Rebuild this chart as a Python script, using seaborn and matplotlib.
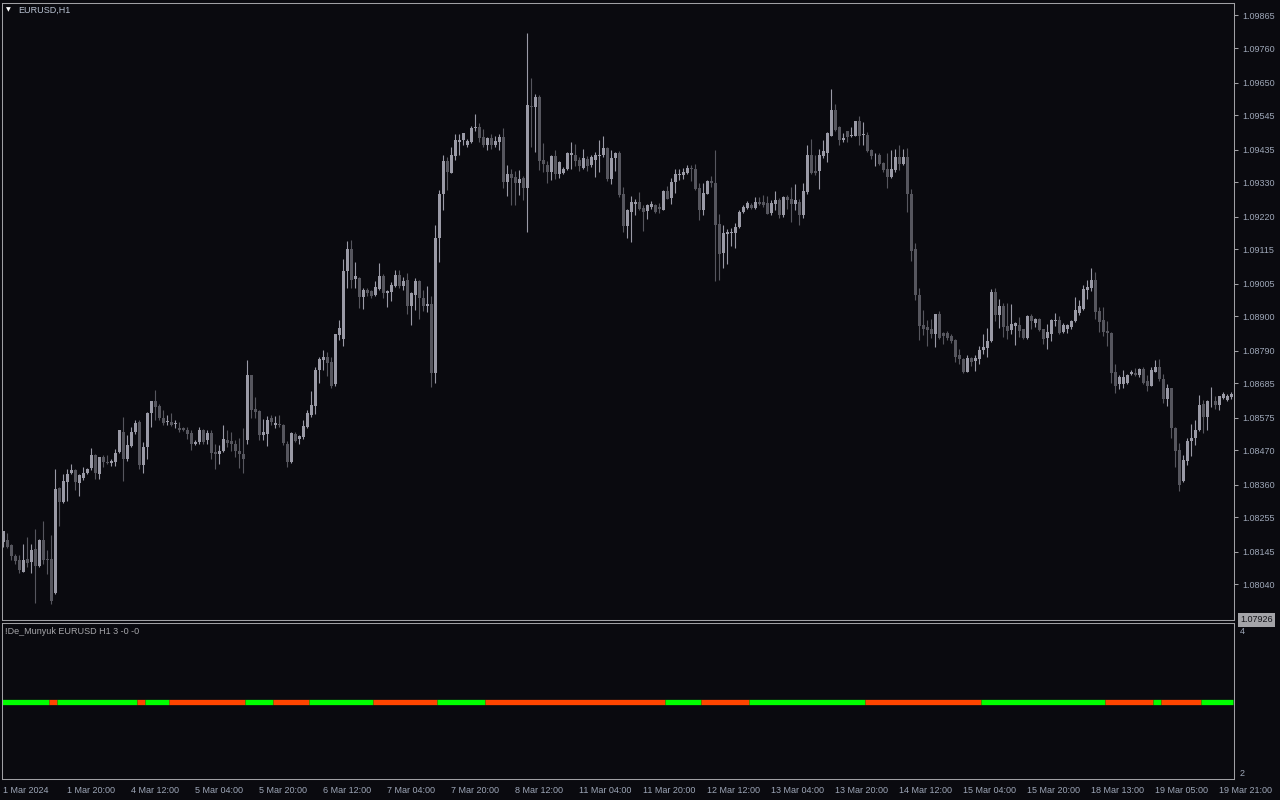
import numpy as np
import pandas as pd
import matplotlib
matplotlib.use("Agg")
import matplotlib.pyplot as plt
import seaborn as sns

# ---------------- data (prices in points, 1 point = 0.00001) ----------------
opens_pts = [
108176,108181,108165,108130,108117,108081,108122,108111,108154,108099,108181,108122,108122,108012,108350,108304,108368,108397,108408,108365,
108382,108397,108414,108454,108395,108450,108434,108430,108432,108464,108530,108442,108483,108528,108560,108424,108480,108590,108630,108611,
108574,108562,108560,108554,108542,108542,108534,108525,108491,108496,108536,108502,108527,108465,108459,108467,108504,108499,108491,108467,
108459,108502,108711,108604,108595,108520,108521,108574,108552,108556,108553,108491,108433,108523,108505,108513,108545,108582,108612,108727,
108759,108769,108753,108682,108839,108828,109045,109117,109020,109024,108962,108983,108980,108967,108988,109028,108974,108978,108996,109031,
108997,109015,108932,108967,109012,108958,108933,108940,108718,109151,109291,109397,109360,109414,109459,109464,109451,109459,109503,109507,
109475,109448,109472,109451,109459,109475,109331,109355,109347,109327,109343,109311,109576,109571,109605,109400,109384,109363,109413,109357,
109359,109371,109418,109416,109400,109375,109405,109384,109403,109414,109416,109441,109339,109409,109424,109291,109189,109234,109259,109268,
109247,109238,109252,109256,109252,109241,109301,109279,109330,109352,109352,109360,109376,109371,109312,109240,109293,109334,109329,109195,
109104,109163,109168,109168,109186,109234,109248,109257,109248,109268,109268,109263,109231,109259,109272,109224,109282,109277,109259,109268,
109224,109298,109416,109366,109366,109414,109424,109480,109563,109507,109464,109493,109478,109478,109525,109481,109483,109432,109416,109419,
109391,109371,109346,109368,109411,109387,109411,109291,109115,108970,108871,108865,108858,108842,108906,108846,108846,108837,108823,108775,
108764,108723,108766,108756,108762,108791,108799,108821,108978,108903,108932,108868,108855,108868,108871,108858,108830,108901,108878,108892,
108858,108830,108844,108884,108887,108849,108860,108866,108884,108911,108924,108983,108992,109018,108916,108887,108852,108847,108723,108682,
108684,108686,108714,108718,108711,108730,108691,108678,108723,108736,108700,108635,108669,108543,108470,108372,108436,108499,108510,108534,
108620,108577,108627,108630,108617,108638,108632,108641]
highs_pts = [
108213,108205,108170,108138,108136,108170,108192,108170,108218,108186,108242,108149,108200,108411,108352,108395,108411,108427,108411,108395,
108416,108414,108478,108457,108450,108454,108454,108443,108475,108536,108576,108518,108544,108566,108566,108496,108592,108630,108665,108619,
108598,108582,108590,108566,108560,108544,108546,108534,108502,108544,108539,108536,108536,108491,108486,108552,108534,108529,108504,108511,
108542,108759,108711,108641,108598,108571,108580,108584,108580,108582,108555,108500,108529,108529,108518,108566,108598,108659,108737,108771,
108791,108785,108769,108844,108889,109085,109143,109146,109074,109026,108992,108992,108985,109013,109071,109037,108985,109010,109050,109050,
109026,109040,108978,109024,109015,108986,108996,108964,109192,109304,109416,109411,109443,109485,109485,109488,109469,109509,109550,109521,
109502,109475,109485,109480,109485,109505,109384,109373,109365,109370,109349,109808,109664,109612,109609,109456,109397,109416,109434,109397,
109379,109427,109459,109453,109411,109437,109413,109416,109427,109466,109477,109443,109432,109427,109430,109314,109245,109285,109277,109298,
109256,109261,109270,109261,109263,109304,109317,109343,109373,109373,109376,109386,109384,109389,109327,109327,109338,109350,109432,109227,
109192,109181,109183,109200,109240,109256,109270,109264,109282,109282,109290,109285,109272,109301,109280,109285,109288,109314,109323,109277,
109327,109450,109469,109419,109437,109466,109491,109630,109580,109510,109489,109496,109507,109525,109541,109523,109491,109437,109423,109425,
109395,109423,109434,109437,109448,109437,109441,109307,109136,108992,108921,108887,108892,108908,108916,108849,108853,108844,108828,108796,
108766,108777,108769,108775,108805,108844,108863,108988,108992,108956,108942,108943,108938,108882,108898,108860,108905,108908,108895,108895,
108860,108876,108892,108911,108900,108878,108876,108889,108962,108951,108999,109017,109056,109042,108930,108930,108884,108849,108746,108711,
108729,108716,108729,108735,108735,108737,108713,108739,108759,108762,108716,108684,108670,108545,108495,108454,108511,108556,108566,108648,
108632,108632,108673,108646,108646,108657,108652,108657]
lows_pts = [
108160,108158,108117,108106,108076,108079,108095,108078,107980,108095,108106,108074,107976,108010,108227,108300,108307,108395,108344,108325,
108376,108395,108408,108377,108377,108416,108427,108419,108421,108462,108371,108437,108480,108523,108411,108397,108441,108544,108566,108568,
108550,108550,108548,108542,108528,108532,108507,108472,108486,108491,108491,108489,108441,108411,108427,108465,108481,108468,108449,108414,
108398,108491,108574,108574,108504,108504,108484,108552,108542,108545,108486,108417,108430,108497,108489,108507,108543,108576,108588,108686,
108727,108708,108670,108675,108825,108805,108992,108992,108992,108926,108922,108965,108958,108965,108985,108958,108930,108949,108994,108992,
108983,108906,108873,108921,108892,108916,108914,108673,108686,109074,109240,109304,109359,109400,109419,109448,109443,109457,109496,109459,
109443,109435,109437,109443,109434,109311,109286,109256,109256,109288,109272,109170,109443,109427,109368,109363,109327,109336,109339,109343,
109355,109368,109373,109382,109365,109371,109365,109379,109347,109363,109411,109334,109325,109367,109282,109170,109152,109138,109224,109240,
109175,109213,109245,109231,109231,109240,109275,109261,109295,109336,109339,109357,109334,109306,109208,109224,109293,109314,109013,109017,
109055,109069,109127,109119,109184,109231,109243,109243,109245,109256,109250,109227,109224,109242,109216,109220,109245,109202,109240,109194,
109215,109293,109357,109352,109309,109408,109395,109478,109496,109450,109459,109459,109475,109477,109451,109448,109427,109405,109381,109384,
109363,109311,109344,109363,109370,109384,109234,109079,108951,108823,108839,108805,108831,108801,108828,108812,108823,108815,108753,108748,
108719,108723,108740,108724,108746,108778,108771,108817,108885,108863,108835,108828,108844,108807,108835,108826,108828,108860,108865,108853,
108812,108796,108821,108869,108844,108846,108846,108858,108882,108903,108919,108956,108981,108892,108849,108836,108804,108686,108654,108668,
108670,108684,108711,108708,108705,108684,108660,108676,108721,108694,108622,108612,108510,108417,108340,108368,108424,108452,108488,108531,
108526,108537,108609,108604,108601,108634,108630,108636]
closes_pts = [
108211,108160,108131,108115,108085,108120,108108,108152,108099,108184,108120,108120,107986,108347,108304,108373,108395,108408,108368,108391,
108398,108411,108454,108397,108450,108432,108430,108437,108462,108534,108442,108486,108530,108557,108424,108482,108590,108627,108608,108574,
108557,108564,108552,108556,108534,108534,108523,108491,108498,108536,108498,108525,108461,108459,108467,108507,108494,108491,108468,108459,
108441,108711,108601,108593,108520,108529,108569,108561,108559,108550,108494,108433,108525,108500,108515,108547,108590,108614,108727,108762,
108769,108750,108678,108842,108862,109047,109117,109015,109028,108962,108986,108974,108965,108994,109028,108974,108980,109002,109031,108996,
109013,108932,108974,109013,108958,108933,108938,108718,109151,109291,109397,109363,109416,109464,109464,109488,109461,109504,109507,109472,
109448,109472,109448,109461,109475,109331,109355,109344,109327,109341,109311,109577,109571,109605,109397,109387,109363,109413,109355,109395,
109373,109424,109424,109397,109382,109409,109381,109411,109416,109416,109441,109339,109409,109424,109288,109189,109240,109268,109266,109245,
109234,109256,109261,109234,109243,109301,109277,109330,109357,109355,109363,109376,109371,109309,109240,109296,109333,109327,109192,109099,
109167,109170,109172,109188,109236,109252,109262,109248,109268,109259,109256,109229,109263,109272,109224,109282,109274,109259,109272,109224,
109301,109416,109359,109359,109416,109430,109488,109563,109498,109466,109473,109475,109483,109525,109480,109483,109429,109413,109419,109387,
109368,109346,109371,109411,109389,109411,109291,109108,108970,108869,108860,108855,108842,108906,108830,108837,108831,108821,108771,108762,
108723,108766,108755,108766,108793,108803,108821,108978,108903,108932,108866,108853,108874,108878,108853,108830,108901,108885,108892,108855,
108826,108849,108887,108887,108847,108871,108871,108884,108919,108932,108988,108994,109018,108914,108882,108849,108846,108718,108678,108705,
108705,108711,108720,108711,108730,108686,108676,108727,108736,108698,108635,108670,108543,108468,108360,108438,108499,108511,108537,108617,
108577,108630,108630,108617,108643,108650,108646,108650]

price_ticks = [1.09865, 1.09760, 1.09650, 1.09545, 1.09435, 1.09330, 1.09220, 1.09115,
               1.09005, 1.08900, 1.08790, 1.08685, 1.08575, 1.08470, 1.08360, 1.08255,
               1.08145, 1.08040]
last_label = 1.07926
price_top = 1.09905

date_labels = ["1 Mar 2024", "1 Mar 20:00", "4 Mar 12:00", "5 Mar 04:00", "5 Mar 20:00",
               "6 Mar 12:00", "7 Mar 04:00", "7 Mar 20:00", "8 Mar 12:00", "11 Mar 04:00",
               "11 Mar 20:00", "12 Mar 12:00", "13 Mar 04:00", "13 Mar 20:00", "14 Mar 12:00",
               "15 Mar 04:00", "15 Mar 20:00", "18 Mar 13:00", "19 Mar 05:00", "19 Mar 21:00"]
date_bar_index = [0, 16, 32, 48, 64, 80, 96, 112, 128, 144, 160, 176, 192, 208, 224, 240,
                  256, 272, 288, 304]

# indicator state runs: (state, number of bars); 1 = green, 0 = red
signal_runs = [(1, 12), (0, 2), (1, 20), (0, 2), (1, 6), (0, 19), (1, 7), (0, 9), (1, 16),
               (0, 16), (1, 12), (0, 45), (1, 9), (0, 12), (1, 29), (0, 29), (1, 31), (0, 12),
               (1, 2), (0, 10), (1, 8)]
signal_level = 3

# ---------------- style ----------------
BG = "#0a0a0f"
FRAME = "#a0a0a4"
TXT = "#9ea7b8"
BULL = "#9a9aa6"
BEAR = "#56565e"
GREEN = "#00ff00"
RED = "#ff4500"

sns.set_theme(style="dark", rc={
    "axes.facecolor": BG, "figure.facecolor": BG, "axes.edgecolor": FRAME,
    "axes.grid": False, "axes.linewidth": 0.75,
    "xtick.color": FRAME, "ytick.color": FRAME, "text.color": TXT,
})
plt.rcParams["font.family"] = ["Liberation Sans", "DejaVu Sans"]

W, H = 1280, 800
fig = plt.figure(figsize=(W / 100, H / 100), dpi=100, facecolor=BG)


def frac(x0, y0, x1, y1):
    return [x0 / W, 1 - y1 / H, (x1 - x0) / W, (y1 - y0) / H]


ax = fig.add_axes(frac(2, 3, 1234, 620))
ax2 = fig.add_axes(frac(2, 623, 1234, 779))

df = pd.DataFrame({
    "open": np.array(opens_pts) / 1e5,
    "high": np.array(highs_pts) / 1e5,
    "low": np.array(lows_pts) / 1e5,
    "close": np.array(closes_pts) / 1e5,
})
df["bar"] = np.arange(len(df))
df["up"] = df["close"] >= df["open"]
colors = np.where(df["up"], BULL, BEAR)

# wicks
ax.vlines(df["bar"], df["low"], df["high"], colors=colors, linewidth=0.8)
# bodies
body_bottom = np.minimum(df["open"], df["close"])
body_h = np.maximum((df["close"] - df["open"]).abs(), 0.00003)
ax.bar(df["bar"], body_h, bottom=body_bottom, width=0.75, color=colors, linewidth=0)

n = len(df)
xlim = (-0.325, n - 0.325)
ax.set_xlim(*xlim)
ax.set_ylim(last_label, price_top)
ax.set_xticks([])
ax.yaxis.tick_right()
ax.set_yticks(price_ticks)
ax.set_yticklabels([f"{p:.5f}" for p in price_ticks])
ax.tick_params(axis="y", direction="out", length=3, width=0.75, color=FRAME,
               labelcolor=TXT, labelsize=6.5, pad=3)
for s in ax.spines.values():
    s.set_color(FRAME)
    s.set_linewidth(0.75)

# last price box
fig.text(1240 / W, 1 - 620 / H, f"{last_label:.5f}", fontsize=6.5, color="#15151a",
         va="center", ha="left",
         bbox=dict(boxstyle="square,pad=0.25", facecolor="#a4a4a8", edgecolor="none"))

# ---------------- indicator panel ----------------
start = 0
for state, length in signal_runs:
    c = GREEN if state == 1 else RED
    sns.lineplot(x=[start - 0.5, start + length - 0.5], y=[signal_level, signal_level],
                 color=c, linewidth=3.8, ax=ax2, estimator=None, sort=False,
                 solid_capstyle="butt")
    start += length

ax2.set_xlim(*xlim)
ax2.set_ylim(1.915, 4.099)
ax2.set_xlabel("")
ax2.set_ylabel("")
ax2.yaxis.tick_right()
ax2.set_yticks([4, 2])
ax2.set_yticklabels(["4", "2"])
ax2.tick_params(axis="y", length=0, labelcolor=TXT, labelsize=6.5, pad=4)
ax2.set_xticks(date_bar_index)
ax2.set_xticklabels(date_labels, ha="left")
ax2.tick_params(axis="x", direction="out", length=4, width=0.75, color=FRAME,
                labelcolor=TXT, labelsize=6.5, pad=1)
for s in ax2.spines.values():
    s.set_color(FRAME)
    s.set_linewidth(0.75)

# ---------------- texts ----------------
fig.text(6 / W, 1 - 10 / H, "\u25BC", fontsize=4.5, color="white", va="center", ha="left",
         family="DejaVu Sans")
fig.text(18 / W, 1 - 10 / H, "EURUSD,H1", fontsize=6.5, color="#b9c2d2", va="center",
         ha="left")
fig.text(5 / W, 1 - 632 / H, "!De_Munyuk EURUSD H1 3 -0 -0", fontsize=6.5, color="#a6a6aa",
         va="center", ha="left")

fig.savefig("out.png", dpi=100, facecolor=BG)
